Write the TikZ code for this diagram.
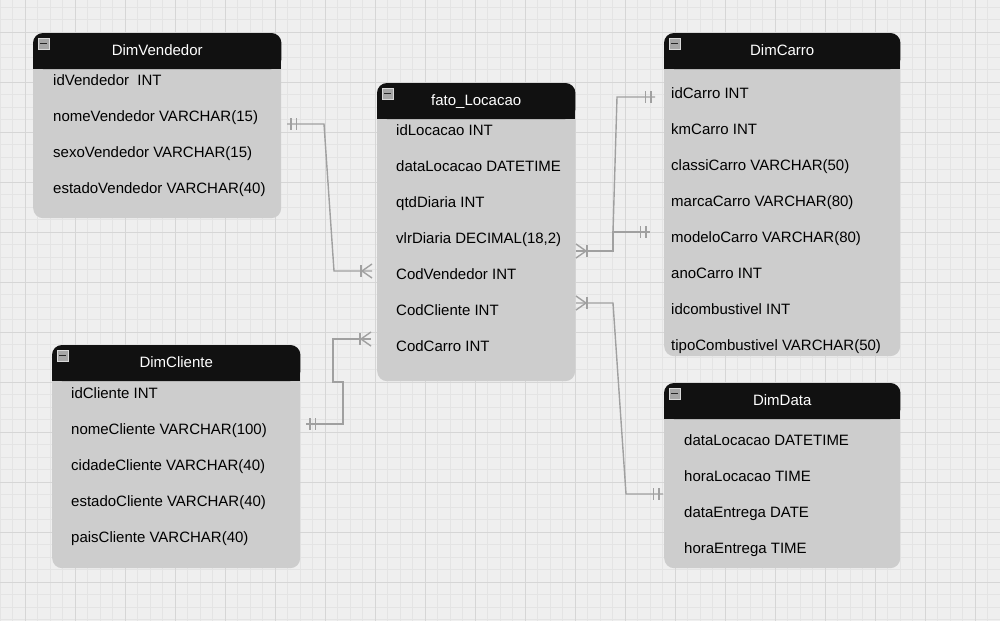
\documentclass[tikz,border=0pt]{standalone}
\usepackage{fontspec}
\setmainfont{Liberation Sans}
\usetikzlibrary{positioning}
\definecolor{bggray}{HTML}{EFEFEF}
\definecolor{minorc}{HTML}{E4E4E4}
\definecolor{majorc}{HTML}{D6D6D6}
\definecolor{bodyc}{HTML}{CDCDCD}
\definecolor{hdrc}{HTML}{111111}
\definecolor{connc}{HTML}{A0A0A0}
\newcommand{\dbtable}[6]{\node[tblbody,minimum width=#4pt,minimum height=#5pt] (#1) at (#2,#3) {};
  \fill[hdrc,rounded corners=10pt] (#1.north west) rectangle ([yshift=-36pt]#1.north east);
  \fill[hdrc] ([yshift=-18pt]#1.north west) rectangle ([yshift=-36pt]#1.north east);
  \node[hdrtxt] (#1-t) at ([yshift=-22.5pt]#1.north) {#6};
  \node[icon] (#1-i) at ([shift={(10.5pt,-10.5pt)}]#1.north west) {};}
\newcommand{\mandone}[2]{\foreach \d in {4,9.5} \draw[conn] ([shift={({#2*\d},-6)}]#1) -- ++(0,12);}
\newcommand{\crowbar}[2]{\draw[conn] ([shift={(0,-7)}]#1) -- ([shift={({#2*10},0)}]#1) -- ([shift={(0,7)}]#1);
  \draw[conn] ([shift={({#2*11},-6)}]#1) -- ++(0,12);}

\begin{document}
\begin{tikzpicture}[x=1pt,y=-1pt,
  tblbody/.style={fill=bodyc,rounded corners=10pt,anchor=north west,inner sep=0pt},
  hdrtxt/.style={anchor=base,text=white,font=\fontsize{15}{18}\selectfont,inner sep=0pt},
  rowtxt/.style={anchor=base west,font=\fontsize{15}{18}\selectfont,inner sep=0pt},
  icon/.style={minimum size=11pt,inner sep=0pt,fill=black!35,draw=white!85!black,line width=1pt,
    path picture={\draw[line width=1.6pt,black!85] ([xshift=2pt]path picture bounding box.west) -- ([xshift=-2pt]path picture bounding box.east);}},
  conn/.style={draw=connc,line width=1.4pt}]
  \useasboundingbox (0,0) rectangle (1000,621);
  \fill[bggray] (0,0) rectangle (1000,621);
  % grid
  \foreach \gx in {0,12.5,...,1000} \draw[minorc,line width=0.8pt] (\gx,0) -- (\gx,621);
  \foreach \gy in {7,19.5,...,621} \draw[minorc,line width=0.8pt] (0,\gy) -- (1000,\gy);
  \foreach \gx in {25,75,...,975} \draw[majorc,line width=1pt] (\gx,0) -- (\gx,621);
  \foreach \gy in {32,82,...,582} \draw[majorc,line width=1pt] (0,\gy) -- (1000,\gy);

  % tables
  \dbtable{vend}{33}{33}{248}{185}{DimVendedor}
  \dbtable{fato}{377}{83}{198}{298}{fato\_Locacao}
  \dbtable{carro}{664}{33}{236}{323}{DimCarro}
  \dbtable{cli}{52}{345}{248}{223}{DimCliente}
  \dbtable{data}{664}{383}{236}{185}{DimData}

  \foreach \t [count=\i] in {idVendedor\ \ INT,nomeVendedor VARCHAR(15),sexoVendedor VARCHAR(15),estadoVendedor VARCHAR(40)}
    \node[rowtxt] (vend-\i) at (53,{85.5+36*(\i-1)}) {\t};
  \foreach \t [count=\i] in {idLocacao INT,dataLocacao DATETIME,qtdDiaria INT,{vlrDiaria DECIMAL(18,2)},CodVendedor INT,CodCliente INT,CodCarro INT}
    \node[rowtxt] (fato-\i) at (396,{135.5+36*(\i-1)}) {\t};
  \foreach \t [count=\i] in {idCarro INT,kmCarro INT,classiCarro VARCHAR(50),marcaCarro VARCHAR(80),modeloCarro VARCHAR(80),anoCarro INT,idcombustivel INT,tipoCombustivel VARCHAR(50)}
    \node[rowtxt] (carro-\i) at (671,{98.5+36*(\i-1)}) {\t};
  \foreach \t [count=\i] in {idCliente INT,nomeCliente VARCHAR(100),cidadeCliente VARCHAR(40),estadoCliente VARCHAR(40),paisCliente VARCHAR(40)}
    \node[rowtxt] (cli-\i) at (71,{398.5+36*(\i-1)}) {\t};
  \foreach \t [count=\i] in {dataLocacao DATETIME,horaLocacao TIME,dataEntrega DATE,horaEntrega TIME}
    \node[rowtxt] (data-\i) at (684,{445.5+36*(\i-1)}) {\t};

  % connector ends
  \coordinate (vendR) at (287,124);
  \coordinate (cliR) at (306,424);
  \coordinate (fatoL1) at (372,271);
  \coordinate (fatoL2) at (371,339);
  \coordinate (fatoR1) at (576,251);
  \coordinate (fatoR2) at (576,303);
  \coordinate (carroL1) at (655,97);
  \coordinate (carroL2) at (650,232);
  \coordinate (dataL) at (663,494);

  % relations
  \draw[conn] (vendR) -- (324,124) -- (334,271) -- (fatoL1);
  \draw[conn] (cliR) -- (343,424) -- (343,382) -- (333,382) -- (333,339) -- (fatoL2);
  \draw[conn] (fatoR1) -- (613,251) -- (613,232) -- (617,97) -- (carroL1);
  \draw[conn] (fatoR1) -- (613,251) -- (613,232) -- (carroL2);
  \draw[conn] (fatoR2) -- (613,303) -- (626,494) -- (dataL);
  \mandone{vendR}{1}
  \mandone{cliR}{1}
  \mandone{carroL1}{-1}
  \mandone{carroL2}{-1}
  \mandone{dataL}{-1}
  \crowbar{fatoL1}{-1}
  \crowbar{fatoL2}{-1}
  \crowbar{fatoR1}{1}
  \crowbar{fatoR2}{1}
\end{tikzpicture}
\end{document}
